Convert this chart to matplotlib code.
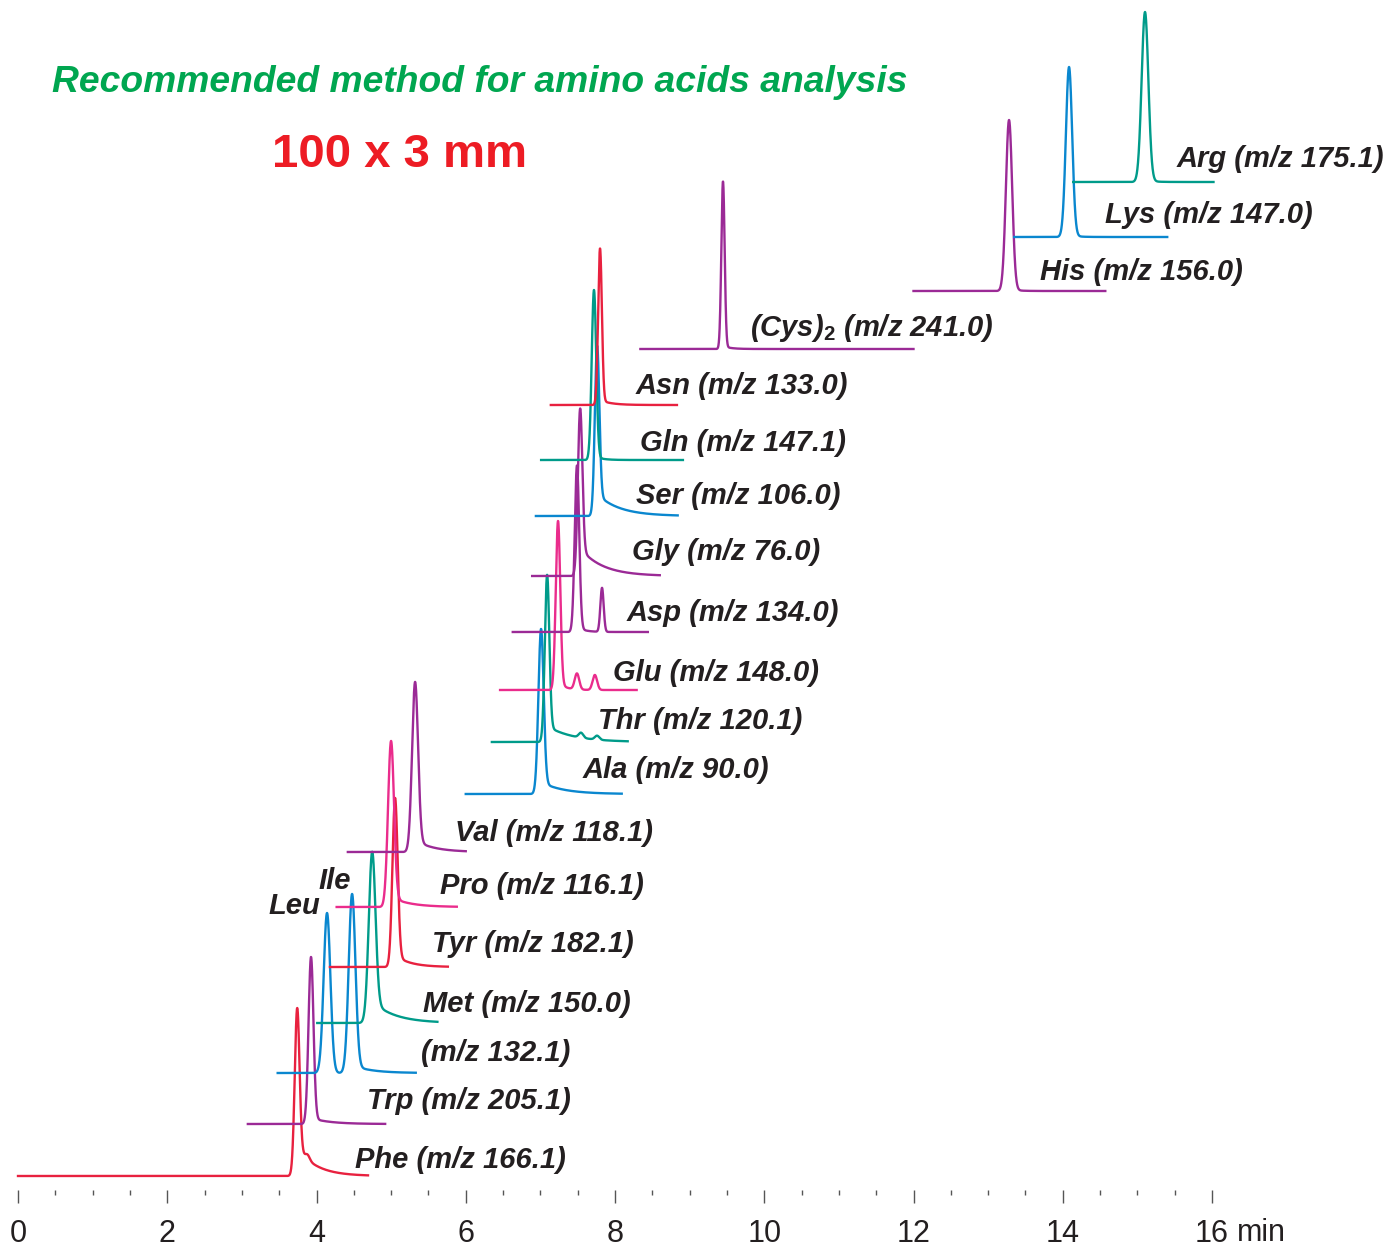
import numpy as np
import matplotlib
matplotlib.use("Agg")
import matplotlib.pyplot as plt

plt.rcParams['font.family'] = ['Liberation Sans', 'DejaVu Sans']
plt.rcParams['mathtext.fontset'] = 'custom'
plt.rcParams['mathtext.rm'] = 'Liberation Sans:bold'
plt.rcParams['mathtext.it'] = 'Liberation Sans:bold:italic'

RED = '#e8213f'
PURPLE = '#9b2a96'
BLUE = '#0a87cf'
TEAL = '#009b8a'
PINK = '#ea2c8c'

# one entry per trace, bottom to top
names = ['Phe (m/z 166.1)', 'Trp (m/z 205.1)', '(m/z 132.1)', 'Met (m/z 150.0)',
         'Tyr (m/z 182.1)', 'Pro (m/z 116.1)', 'Val (m/z 118.1)', 'Ala (m/z 90.0)',
         'Thr (m/z 120.1)', 'Glu (m/z 148.0)', 'Asp (m/z 134.0)', 'Gly (m/z 76.0)',
         'Ser (m/z 106.0)', 'Gln (m/z 147.1)', 'Asn (m/z 133.0)',
         '(Cys)$_{2}$ (m/z 241.0)', 'His (m/z 156.0)', 'Lys (m/z 147.0)',
         'Arg (m/z 175.1)']
colors = [RED, PURPLE, BLUE, TEAL, RED, PINK, PURPLE, BLUE, TEAL, PINK,
          PURPLE, PURPLE, BLUE, TEAL, RED, PURPLE, PURPLE, BLUE, TEAL]
t_start = [0.0, 3.08, 3.48, 4.01, 4.18, 4.27, 4.42, 6.00, 6.35, 6.46,
           6.63, 6.89, 6.94, 7.01, 7.14, 8.34, 12.00, 13.35, 14.14]
t_end = [4.69, 4.92, 5.33, 5.62, 5.76, 5.88, 6.00, 8.09, 8.17, 8.29,
         8.44, 8.60, 8.84, 8.91, 8.83, 12.00, 14.57, 15.40, 16.02]
offsets = [72, 124, 175, 225, 281, 341, 396, 454, 506, 558,
           616, 672, 732, 788, 843, 899, 957, 1011, 1066]
# peaks: (retention time, height, sigma)
peaks = [
    [(3.739, 153, 0.032), (3.88, 5, 0.03)],
    [(3.926, 164, 0.033)],
    [(4.141, 160, 0.045), (4.476, 175, 0.045)],
    [(4.744, 160, 0.045)],
    [(5.052, 163, 0.035)],
    [(4.998, 161, 0.040)],
    [(5.320, 164, 0.040)],
    [(7.008, 159, 0.035)],
    [(7.089, 159, 0.030), (7.544, 5, 0.03), (7.76, 4, 0.03)],
    [(7.236, 165, 0.030), (7.49, 16, 0.03), (7.73, 15, 0.03)],
    [(7.490, 164, 0.030), (7.826, 44, 0.022)],
    [(7.531, 153, 0.030)],
    [(7.759, 159, 0.030)],
    [(7.718, 168, 0.030)],
    [(7.799, 154, 0.025)],
    [(9.447, 166, 0.022)],
    [(13.28, 170, 0.042)],
    [(14.084, 169, 0.042)],
    [(15.102, 169, 0.045)],
]
# exponential tail after the main peak: (amplitude, tau)
tails = [(29, 0.25), (6, 0.25), (8, 0.25), (22, 0.30), (12, 0.20), (10, 0.25),
         (12, 0.25), (12, 0.30), (16, 0.35), (8, 0.10), (5, 0.10), (28, 0.30),
         (22, 0.30), (4, 0.10), (5, 0.15), (3, 0.10), (2, 0.1), (2, 0.1), (2, 0.1)]
# label anchors (time, offset) for each trace label
label_x = [4.52, 4.68, 5.40, 5.43, 5.55, 5.66, 5.86, 7.56, 7.77, 7.97,
           8.15, 8.23, 8.28, 8.34, 8.28, 9.81, 13.69, 14.57, 15.52]
label_y = [88, 147, 195, 244, 304, 362, 415, 478, 527, 575,
           635, 696, 752, 805, 862, 920, 976, 1033, 1089]

ticks = [0, 2, 4, 6, 8, 10, 12, 14, 16]


def trace(i):
    t = np.linspace(t_start[i], t_end[i], 2000)
    y = np.full_like(t, offsets[i], dtype=float)
    for rt, h, s in peaks[i]:
        y += h * np.exp(-0.5 * ((t - rt) / s) ** 2)
    rt0, h0, s0 = peaks[i][-1] if i == 2 else peaks[i][0]
    amp, tau = tails[i]
    step = 1.0 / (1.0 + np.exp(-(t - rt0) / (0.5 * s0)))
    y += amp * np.exp(-np.clip(t - rt0, 0, None) / tau) * step
    return t, y


fig = plt.figure(figsize=(13.87, 12.48), dpi=100)
ax = fig.add_axes([0, 0, 1, 1])
ax.set_xlim(-18 / 74.625, (1387 - 18) / 74.625)
ax.set_ylim(0, 1248)

lab = dict(fontsize=21, fontweight='bold', style='italic', color='#231f20',
           ha='left', va='center')
for i in range(len(names)):
    t, y = trace(i)
    ax.plot(t, y, color=colors[i], lw=1.7)
    ax.text(label_x[i], label_y[i], names[i], **lab)

ax.text(3.35, 342, 'Leu', **lab)
ax.text(4.02, 367, 'Ile', **lab)

ax.text(0.46, 1166, 'Recommended method for amino acids analysis', fontsize=26.8,
        fontweight='bold', style='italic', color='#00a650', ha='left', va='center')
ax.text(3.40, 1093, '100 x 3 mm', fontsize=34, fontweight='bold',
        color='#ed1c24', ha='left', va='center')

for s in ['left', 'right', 'top']:
    ax.spines[s].set_visible(False)
ax.spines['bottom'].set_position(('data', 58))
ax.spines['bottom'].set_visible(False)
ax.set_yticks([])
ax.set_xticks(ticks)
ax.set_xticklabels([str(v) for v in ticks])
ax.set_xticks(np.arange(0, 16.01, 0.5), minor=True)
ax.tick_params(axis='x', which='major', direction='out', length=9, width=1.0,
               color='#555555', labelsize=22, pad=12, labelcolor='#231f20')
ax.tick_params(axis='x', which='minor', direction='out', length=3.8, width=1.0,
               color='#555555')
ax.text(16.33, 7, 'min', fontsize=22, color='#231f20', ha='left', va='baseline')

fig.savefig('out.png', dpi=100)
